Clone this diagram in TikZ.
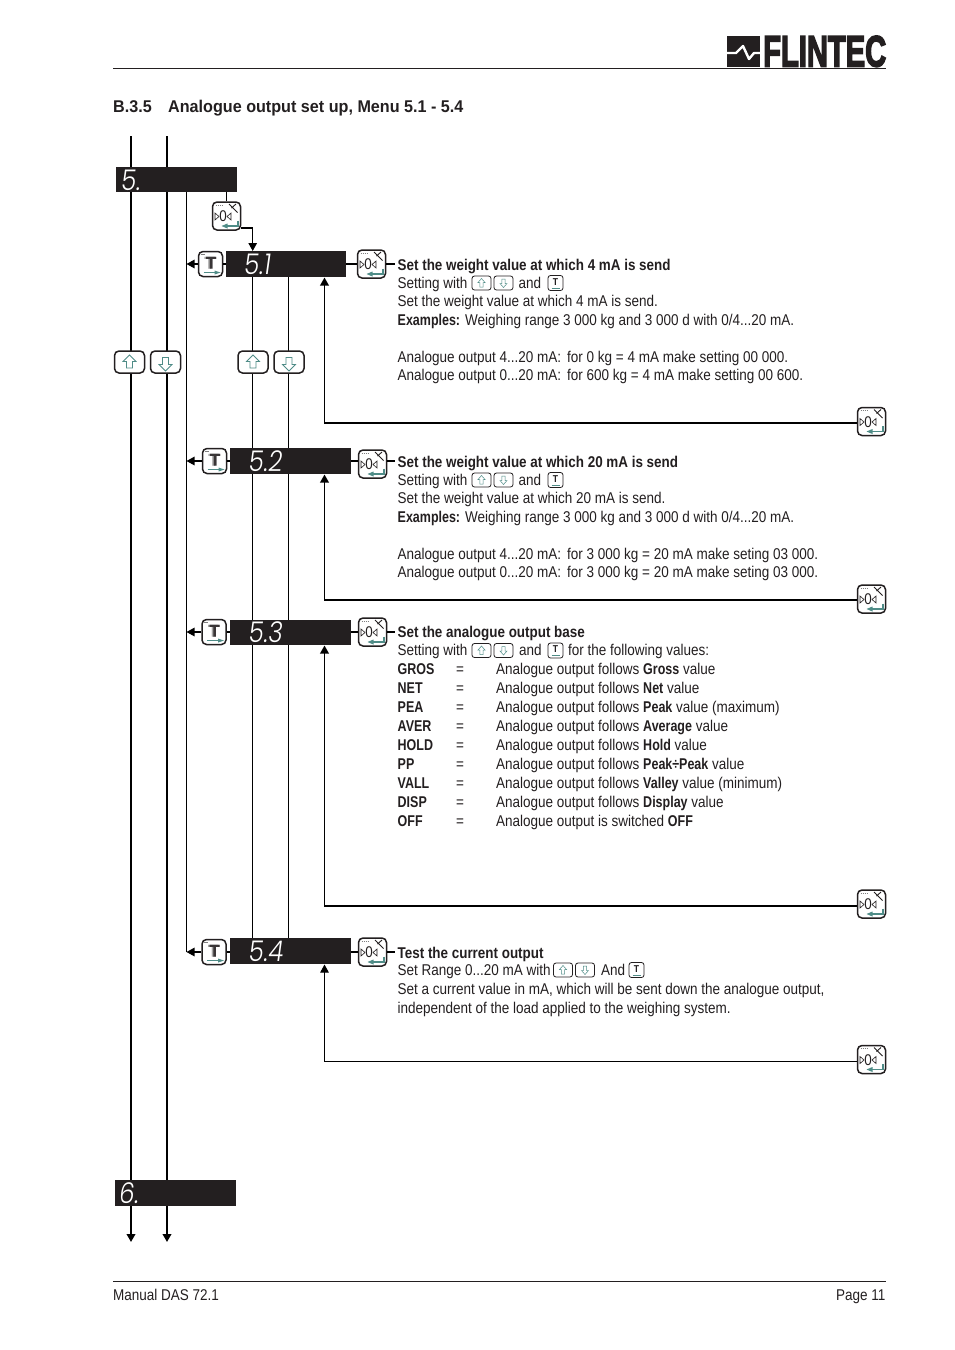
\documentclass[tikz,border=0pt]{standalone}
\usepackage{fontspec}
\usetikzlibrary{arrows.meta}
\setmainfont[FakeStretch=0.865,BoldFeatures={FakeStretch=0.86}]{Liberation Sans}
\newfontfamily\headf[FakeStretch=0.95]{Liberation Sans Bold}
\newfontfamily\inb[FakeStretch=0.80]{Liberation Sans Bold}
\newfontfamily\segf[FakeSlant=0.14,FakeStretch=0.86]{Poppins Light}
\newfontfamily\logof[FakeBold=4]{Liberation Sans Bold}
\newfontfamily\keyf[FakeBold=1]{Liberation Sans Bold}
\newcommand\ib[1]{{\inb #1}}
\definecolor{ink}{HTML}{231F20}
\definecolor{teal}{HTML}{4F8C87}
\tikzset{
  x=1pt,y=-1pt,
  txt/.style={anchor=base west,inner sep=0,font=\fontsize{15.6}{18}\selectfont,text=ink},
  head/.style={anchor=base west,inner sep=0,font=\headf\fontsize{17}{18}\selectfont,text=ink},
  keybox/.style={draw=ink,fill=white,line width=1.5pt,rounded corners=4.5pt,inner sep=0},
  minikey/.style={draw=ink,fill=white,line width=.8pt,rounded corners=2.5pt,inner sep=0},
  bus/.style={draw=black,line width=2pt},
  wire/.style={draw=black,line width=1.3pt},
  thin wire/.style={draw=black,line width=1pt},
  tip/.style={-{Triangle[length=8pt,width=8.5pt]}},
  seg/.style={text=white,inner sep=0,anchor=base west,font=\segf\fontsize{28.5}{28}\selectfont},
  glyph/.style={draw=teal,line width=.8pt,fill=white},
}
\newcommand\dbox[5]{\path[fill=ink] (#2,#3) rectangle (#4,#5);\node[inner sep=0,minimum width=#4-#2,minimum height=#5-#3] (#1) at ({(#2+#4)/2},{(#3+#5)/2}) {};}
\newcommand\ekey[3]{%
  \node[keybox,minimum width=28pt,minimum height=28pt] (#1) at (#2,#3) {};
  \begin{scope}[shift={(#1.center)}]
    \node[inner sep=0,font=\fontsize{15.5}{15}\selectfont,text=ink] (#1z) at (-3.4,0.5) {0};
    \draw[ink,line width=.6pt] (-11.5,-3)--(-7.5,0.5)--(-11.5,4)--cycle (4.5,-3)--(.5,0.5)--(4.5,4)--cycle;
    \draw[ink,line width=.9pt] (2.5,-12)--(11,-3.5) (5,-8)--(9.5,-12);
    \draw[gray,line width=.5pt,dash pattern=on 1pt off 1pt] (-11,-11)--(-3,-11);
    \draw[teal,line width=1.7pt] (11.3,4.5)--(11.3,10)--(0,10);
    \fill[teal] (1,7.5)--(-5,10)--(1,12.5)--cycle;
  \end{scope}}
\newcommand\tkey[3]{%
  \node[keybox,minimum width=24pt,minimum height=25pt] (#1) at (#2,#3) {};
  \begin{scope}[shift={(#1.center)}]
    \node[inner sep=0,font=\keyf\fontsize{17}{17}\selectfont,text=gray!70] (#1s) at (-.8,-1.2) {T};
    \node[inner sep=0,font=\keyf\fontsize{17}{17}\selectfont,text=ink!90] (#1m) at (.6,-1.2) {T};
    \draw[teal,line width=1.2pt] (-7,8.5)--(5,8.5);
    \fill[teal] (4,6.5)--(10,8.5)--(4,10.5)--cycle;
    \draw[gray,line width=.4pt] (-10,-10)--(-6,-10);
  \end{scope}}
\newcommand\ukey[3]{%
  \node[keybox,minimum width=30pt,minimum height=22pt] (#1) at (#2,#3) {};
  \begin{scope}[shift={(#1.center)}]
    \draw[glyph] (0,-7)--(6.5,-.5)--(3,-.5)--(3,6)--(-3,6)--(-3,-.5)--(-6.5,-.5)--cycle;
  \end{scope}}
\newcommand\dkey[3]{%
  \node[keybox,minimum width=30pt,minimum height=22pt] (#1) at (#2,#3) {};
  \begin{scope}[shift={(#1.center)}]
    \draw[glyph] (0,9)--(6.5,2.5)--(3,2.5)--(3,-4.5)--(-3,-4.5)--(-3,2.5)--(-6.5,2.5)--cycle;
  \end{scope}}
\newcommand\mup[3]{%
  \node[minikey,minimum width=19pt,minimum height=14pt] (#1) at (#2,#3) {};
  \draw[teal,line width=.5pt,shift={(#1.center)}] (0,-4.5)--(3.5,-.5)--(1.7,-.5)--(1.7,4)--(-1.7,4)--(-1.7,-.5)--(-3.5,-.5)--cycle;}
\newcommand\mdn[3]{%
  \node[minikey,minimum width=19pt,minimum height=14pt] (#1) at (#2,#3) {};
  \draw[teal,line width=.5pt,shift={(#1.center)}] (0,4.5)--(3.5,.5)--(1.7,.5)--(1.7,-4)--(-1.7,-4)--(-1.7,.5)--(-3.5,.5)--cycle;}
\newcommand\mt[3]{%
  \node[minikey,minimum width=15pt,minimum height=15pt] (#1) at (#2,#3) {};
  \node[inner sep=0,font=\bfseries\fontsize{10}{10}\selectfont,text=ink] (#1m) at ([yshift=1.4pt]#1.center) {T};
  \draw[teal,line width=.9pt,shift={(#1.center)}] (-4,5.2)--(4.5,5.2);}
\newcommand\tl[3]{\node[txt] at (#1,#2) {#3};}
\begin{document}
\begin{tikzpicture}
\useasboundingbox (0,0) rectangle (954,1350);
\fill[white] (0,0) rectangle (954,1350);
% header
\coordinate (hl) at (113,68.5); \coordinate (hr) at (886,68.5);
\draw[ink,line width=1pt] (hl)--(hr);
\fill[ink] (727,36) rectangle (760,67);
\draw[white,line width=2.4pt,line join=round] (727,53)--(736,53)--(743,46)--(749,59)--(754,53)--(760,53);
\node[inner sep=0,anchor=south west,text=ink] (logo) at (763,67) {\resizebox{123pt}{30.5pt}{\logof FLINTEC}};
\node[head] (h1) at (113,112.5) {B.3.5};
\node[head] (h2) at (168,112.5) {Analogue output set up, Menu 5.1 - 5.4};
% coordinates
\coordinate (a0) at (131,136); \coordinate (a1) at (131,1242);
\coordinate (b0) at (167,136); \coordinate (b1) at (167,1242);
\coordinate (c0) at (186.5,192); \coordinate (c1) at (186.5,952);
\draw[bus] (a0)--(131,1234);
\draw[bus] (b0)--(167,1234);
\draw[wire,line width=1.6pt] (c0)--(c1);
\draw[tip,draw=black,fill=black,line width=2pt] (131,1200)--(a1);
\draw[tip,draw=black,fill=black,line width=2pt] (167,1200)--(b1);
\coordinate (d0) at (252.7,277); \coordinate (d1) at (252.7,938);
\coordinate (e0) at (288.7,277); \coordinate (e1) at (288.7,938);
\draw[wire] (d0)--(d1); \draw[wire] (e0)--(e1);
% up/down keys
\ukey{ua}{129.5}{362} \dkey{da}{165.5}{362} \ukey{ub}{253}{362} \dkey{db}{289}{362}
% displays
\dbox{m5}{116}{167}{237}{192}
\dbox{m51}{226}{251}{346}{277}
\dbox{m52}{230}{448}{351}{474}
\dbox{m53}{230}{620}{351}{645}
\dbox{m54}{230}{938}{351}{964}
\dbox{m6}{115}{1180}{236}{1206}
\node[seg] (s5) at (120,190) {5.};
\node[seg] (s51) at (243,274.5) {5.1};
\node[seg] (s52) at (247.5,471.5) {5.2};
\node[seg] (s53) at (247.5,642.7) {5.3};
\node[seg] (s54) at (247.5,961.5) {5.4};
\node[seg] (s6) at (118,1203.5) {6.};
% enter from menu 5
\ekey{k0}{226.5}{216}
\draw[wire] (k0.north|-m5.south)--(k0.north);
\draw[wire,tip] (k0.east|-0,228)-|(252.7,251);
% row keys
\tkey{t1}{210.5}{264} \ekey{r1}{371.5}{264}
\tkey{t2}{214.5}{461} \ekey{r2}{372.5}{464}
\tkey{t3}{214}{632} \ekey{r3}{372.5}{632}
\tkey{t4}{214}{952} \ekey{r4}{372.5}{952}
\ekey{q1}{871.5}{421.5} \ekey{q2}{871.5}{599} \ekey{q3}{871.5}{904} \ekey{q4}{871.5}{1059.5}
% connectors
\foreach \n/\m/\y in {1/m51/264,2/m52/461,3/m53/632,4/m54/952}{
  \coordinate (bus\n) at (186.5,\y);
  \draw[wire] (t\n.east|-0,\y)--(\m.west|-0,\y);
  \draw[wire,tip] (t\n.west|-0,\y)--(bus\n);
}
\foreach \n/\m/\y in {1/m51/264,2/m52/461,3/m53/632,4/m54/952}{
  \draw[wire] (\m.east|-0,\y)--(r\n.west|-0,\y);
  \coordinate (tx\n) at (395,\y);
  \draw[wire] (r\n.east|-0,\y)--(tx\n);
}
\draw[wire,line width=1.8pt,tip] (q1.west|-0,423)-|(324.5,277.5);
\draw[wire,line width=1.8pt,tip] (q2.west|-0,600)-|(324.5,474.5);
\draw[wire,line width=1.8pt,tip] (q3.west|-0,906)-|(324.5,645.5);
\draw[thin wire,tip] (q4.west|-0,1061)-|(324.5,964.5);
% Block 1
\tl{397.5}{270}{\textbf{Set the weight value at which 4 mA is send}}
\tl{397.5}{288}{Setting with} \mup{i1a}{481.5}{283} \mdn{i1b}{503.5}{283} \tl{518.5}{288}{and} \mt{i1c}{555.5}{283}
\tl{397.5}{306.5}{Set the weight value at which 4 mA is send.}
\tl{397.5}{325}{\ib{Examples:} Weighing range 3 000 kg and 3 000 d with 0/4...20 mA.}
\tl{397.5}{362}{Analogue output 4...20 mA:} \tl{567}{362}{for 0 kg = 4 mA make setting 00 000.}
\tl{397.5}{380.5}{Analogue output 0...20 mA:} \tl{567}{380.5}{for 600 kg = 4 mA make setting 00 600.}
% Block 2
\tl{397.5}{467}{\textbf{Set the weight value at which 20 mA is send}}
\tl{397.5}{485}{Setting with} \mup{i2a}{481.5}{480} \mdn{i2b}{503.5}{480} \tl{518.5}{485}{and} \mt{i2c}{555.5}{480}
\tl{397.5}{503.5}{Set the weight value at which 20 mA is send.}
\tl{397.5}{522}{\ib{Examples:} Weighing range 3 000 kg and 3 000 d with 0/4...20 mA.}
\tl{397.5}{559}{Analogue output 4...20 mA:} \tl{567}{559}{for 3 000 kg = 20 mA make seting 03 000.}
\tl{397.5}{577.5}{Analogue output 0...20 mA:} \tl{567}{577.5}{for 3 000 kg = 20 mA make seting 03 000.}
% Block 3
\tl{397.5}{637}{\textbf{Set the analogue output base}}
\tl{397.5}{655.5}{Setting with} \mup{i3a}{481.5}{650.5} \mdn{i3b}{503.5}{650.5} \tl{519}{655.5}{and} \mt{i3c}{555.5}{650.5} \tl{568}{655.5}{for the following values:}
\foreach \y/\k/\v in {
 674.5/GROS/{Analogue output follows \ib{Gross} value},
 693.5/NET/{Analogue output follows \ib{Net} value},
 712.5/PEA/{Analogue output follows \ib{Peak} value (maximum)},
 731.5/AVER/{Analogue output follows \ib{Average} value},
 750/HOLD/{Analogue output follows \ib{Hold} value},
 769/PP/{Analogue output follows \ib{Peak÷Peak} value},
 788/VALL/{Analogue output follows \ib{Valley} value (minimum)},
 807/DISP/{Analogue output follows \ib{Display} value},
 826/OFF/{Analogue output is switched \ib{OFF}}}{
  \tl{397.5}{\y}{\ib{\k}} \tl{456}{\y}{=} \tl{496}{\y}{\v}
}
% Block 4
\tl{397.5}{958}{\textbf{Test the current output}}
\tl{397.5}{975.5}{Set Range 0...20 mA with} \mup{i4a}{563}{970} \mdn{i4b}{585}{970} \tl{601}{975.5}{And} \mt{i4c}{636.5}{970}
\tl{397.5}{994.5}{Set a current value in mA, which will be sent down the analogue output,}
\tl{397.5}{1013}{independent of the load applied to the weighing system.}
% footer
\coordinate (fl) at (113,1281.5); \coordinate (fr) at (886,1281.5);
\draw[ink,line width=1pt] (fl)--(fr);
\tl{113}{1300}{Manual DAS 72.1}
\node[txt,anchor=base east] (pg) at (885.5,1300) {Page 11};
\end{tikzpicture}
\end{document}
